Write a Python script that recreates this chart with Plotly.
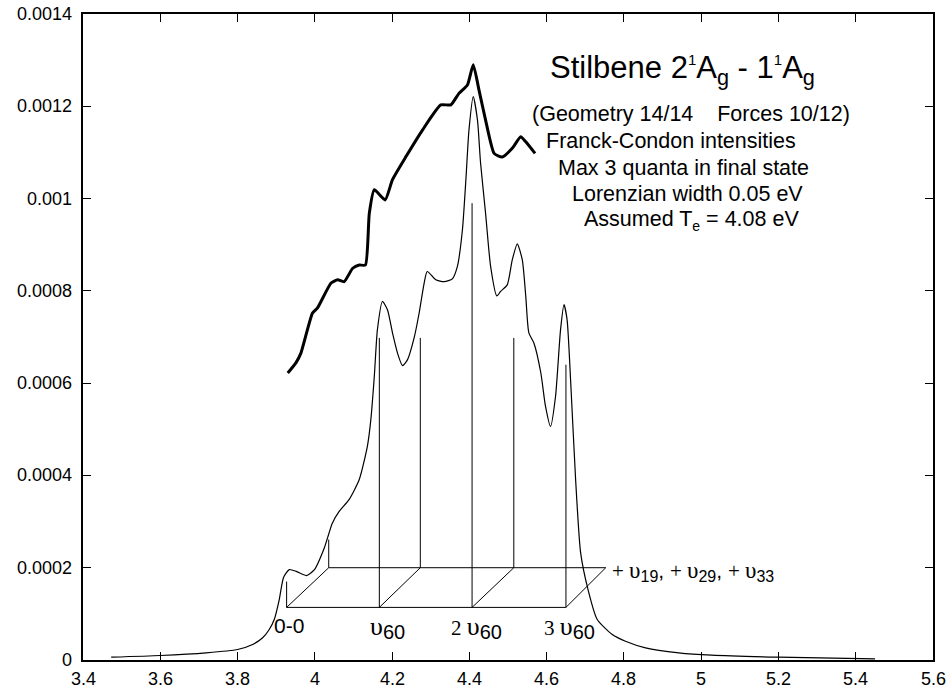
import plotly.graph_objects as go

# ---------------- data ----------------
# calculated Franck-Condon spectrum (thin line)
thin_x = [3.473, 3.600, 3.719, 3.800, 3.839, 3.865, 3.882, 3.895, 3.908, 3.919,
          3.934, 3.952, 3.978, 3.999, 4.025, 4.045, 4.063, 4.089, 4.115, 4.136,
          4.145, 4.154, 4.162, 4.175, 4.188, 4.201, 4.214, 4.227, 4.240, 4.257,
          4.270, 4.283, 4.291, 4.313, 4.335, 4.356, 4.369, 4.382, 4.391, 4.399,
          4.410, 4.421, 4.429, 4.442, 4.455, 4.471, 4.481, 4.498, 4.511, 4.524,
          4.537, 4.546, 4.554, 4.567, 4.585, 4.597, 4.610, 4.623, 4.636, 4.645,
          4.653, 4.662, 4.675, 4.688, 4.707, 4.731, 4.770, 4.804, 4.856, 4.942,
          5.027, 5.200, 5.450]
thin_y = [0.0000061, 0.0000097, 0.0000156, 0.0000227, 0.0000336, 0.0000481, 0.0000660, 0.0000877, 0.000131, 0.000179,
          0.000196, 0.000192, 0.000183, 0.000196, 0.000244, 0.000296, 0.000322, 0.000348, 0.000391, 0.000463,
          0.000521, 0.000615, 0.000716, 0.000777, 0.000759, 0.000709, 0.000665, 0.000638, 0.000651, 0.000698,
          0.000752, 0.000817, 0.000842, 0.000824, 0.000820, 0.000826, 0.000853, 0.000932, 0.001041, 0.001149,
          0.001221, 0.001170, 0.001077, 0.000968, 0.000853, 0.000789, 0.000799, 0.000813, 0.000867, 0.000902,
          0.000867, 0.000788, 0.000709, 0.000687, 0.000622, 0.000550, 0.000506, 0.000571, 0.000716, 0.000770,
          0.000737, 0.000607, 0.000391, 0.000232, 0.000153, 0.0000877, 0.0000552, 0.0000407, 0.0000264, 0.0000156,
          0.0000104, 0.0000061, 0.0000026]

# experimental spectrum (thick line)
thick_x = [3.930, 3.951, 3.964, 3.994, 4.007, 4.042, 4.059, 4.076, 4.098, 4.115,
           4.131, 4.141, 4.154, 4.182, 4.201, 4.236, 4.279, 4.326, 4.352, 4.373,
           4.395, 4.410, 4.425, 4.442, 4.464, 4.485, 4.511, 4.533, 4.546, 4.570]
thick_y = [0.000622, 0.000644, 0.000665, 0.000752, 0.000763, 0.000817, 0.000824, 0.000820, 0.000849, 0.000856,
           0.000856, 0.000968, 0.001019, 0.000997, 0.001041, 0.001091, 0.001149, 0.001203, 0.001203, 0.001228,
           0.001246, 0.001290, 0.001235, 0.001170, 0.001098, 0.001090, 0.001109, 0.001134, 0.001123, 0.001098]

# stick diagram (pseudo-3D): front row (v60 progression) and back row (+v19,+v29,+v33)
front_x = [3.927, 4.167, 4.407, 4.650]
front_top = [0.000170, 0.000698, 0.000990, 0.000640]
front_base = 0.000114
back_x = [4.036, 4.273, 4.515, 4.753]
back_top = [0.000261, 0.000698, 0.000698, 0.000200]
back_base = 0.000200

stick_prefix = ["", "", "2 ", "3 "]
stick_mode = ["60", "60", "60", "60"]
back_modes = ["19", "29", "33"]

x_ticks = [3.4, 3.6, 3.8, 4.0, 4.2, 4.4, 4.6, 4.8, 5.0, 5.2, 5.4, 5.6]
x_ticktext = ["3.4", "3.6", "3.8", "4", "4.2", "4.4", "4.6", "4.8", "5", "5.2", "5.4", "5.6"]
y_ticks = [0, 0.0002, 0.0004, 0.0006, 0.0008, 0.001, 0.0012, 0.0014]
y_ticktext = ["0", "0.0002", "0.0004", "0.0006", "0.0008", "0.001", "0.0012", "0.0014"]

SUP1 = "<sup><span style='font-size:15px'>1</span></sup>"
title_lines = [
    "Stilbene 2" + SUP1 + "A<sub>g</sub> - 1" + SUP1 + "A<sub>g</sub>",
    "(Geometry 14/14\u00a0\u00a0\u00a0\u00a0Forces 10/12)",
    "Franck-Condon intensities",
    "Max 3 quanta in final state",
    "Lorenzian width 0.05 eV",
    "Assumed T<sub><span style='font-size:14px'>e</span></sub> = 4.08 eV",
]

# ---------------- figure ----------------
BLACK = "#000000"
SANS = "Liberation Sans, Arial, sans-serif"

fig = go.Figure()

fig.add_trace(go.Scatter(x=thin_x, y=thin_y, mode="lines",
                         line=dict(color=BLACK, width=1.2, shape="spline", smoothing=0.6),
                         hoverinfo="skip"))
fig.add_trace(go.Scatter(x=thick_x, y=thick_y, mode="lines",
                         line=dict(color=BLACK, width=3, shape="spline", smoothing=0.5),
                         hoverinfo="skip"))

# stick lines
sx, sy = [], []
for x0, t in zip(front_x, front_top):
    sx += [x0, x0, None]
    sy += [front_base, t, None]
for x0, t in zip(back_x, back_top):
    if t > back_base:
        sx += [x0, x0, None]
        sy += [back_base, t, None]
# box: front and back baselines, and diagonals
sx += [front_x[0], front_x[-1], None, back_x[0], back_x[-1], None]
sy += [front_base, front_base, None, back_base, back_base, None]
for xf, xb in zip(front_x, back_x):
    sx += [xf, xb, None]
    sy += [front_base, back_base, None]
fig.add_trace(go.Scatter(x=sx, y=sy, mode="lines", line=dict(color=BLACK, width=1),
                         hoverinfo="skip"))


def ups(prefix, mode, serif_size, ups_size, sub_size):
    s = ""
    if prefix:
        s += "<span style='font-family:Liberation Serif;font-size:%dpx'>%s</span>" % (serif_size, prefix)
    s += "<span style='font-family:Liberation Serif;font-size:%dpx'>υ</span>" % ups_size
    s += "<sub><span style='font-size:%dpx'>%s</span></sub>" % (sub_size, mode)
    return s


# stick labels
label_dx = [0.007, 0.020, 0.011, 0.010]
for i, (x0, dx) in enumerate(zip(front_x, label_dx)):
    txt = "0-0" if i == 0 else ups(stick_prefix[i], stick_mode[i], 21, 26, 20)
    fig.add_annotation(x=x0 + dx, y=0.0000754 if i == 0 else 0.000070, xref="x", yref="y", text=txt,
                       showarrow=False, xanchor="center", yanchor="middle",
                       font=dict(family=SANS, size=21, color=BLACK))

bl = ", ".join(ups("+ ", m, 21, 23, 16) for m in back_modes)
fig.add_annotation(x=back_x[-1] + 0.012, y=back_base - 0.000008, xref="x", yref="y", text=bl,
                   showarrow=False, xanchor="left", yanchor="middle",
                   font=dict(family=SANS, size=21, color=BLACK))

# title block
title_pos = [(4.952, 0.0012787, 31), (4.9729, 0.0011835, 21.5), (4.9212, 0.0011239, 21.5),
             (4.9548, 0.0010654, 21.5), (4.9651, 0.0010098, 21.5), (4.9755, 0.0009535, 21.5)]
for txt, (xx, yy, fs) in zip(title_lines, title_pos):
    fig.add_annotation(x=xx, y=yy, xref="x", yref="y", text=txt, showarrow=False,
                       xanchor="center", yanchor="middle",
                       font=dict(family=SANS, size=fs, color=BLACK))

# tick labels (placed on the axes' own scale)
TICKFONT = dict(family=SANS, size=18, color=BLACK)
for v, t in zip(y_ticks, y_ticktext):
    fig.add_annotation(x=0, xref="paper", y=v, yref="y", text=t, showarrow=False,
                       xanchor="right", yanchor="middle", xshift=-9, font=TICKFONT)
for v, t in zip(x_ticks, x_ticktext):
    fig.add_annotation(x=v, xref="x", y=0, yref="paper", text=t, showarrow=False,
                       xanchor="center", yanchor="top", yshift=-7, font=TICKFONT)

axis_common = dict(showgrid=False, zeroline=False, showline=True, linecolor=BLACK, linewidth=1.5,
                   mirror="allticks", ticks="inside", ticklen=8, tickwidth=1.2, tickcolor=BLACK,
                   showticklabels=False, automargin=False)

fig.update_xaxes(range=[3.4, 5.6], tickvals=x_ticks, **axis_common)
fig.update_yaxes(range=[0, 0.0014], tickvals=y_ticks, **axis_common)

fig.update_layout(width=949, height=688, showlegend=False,
                  margin=dict(l=83, r=16, t=14, b=28),
                  paper_bgcolor="white", plot_bgcolor="white")

fig.write_html("out.html")
